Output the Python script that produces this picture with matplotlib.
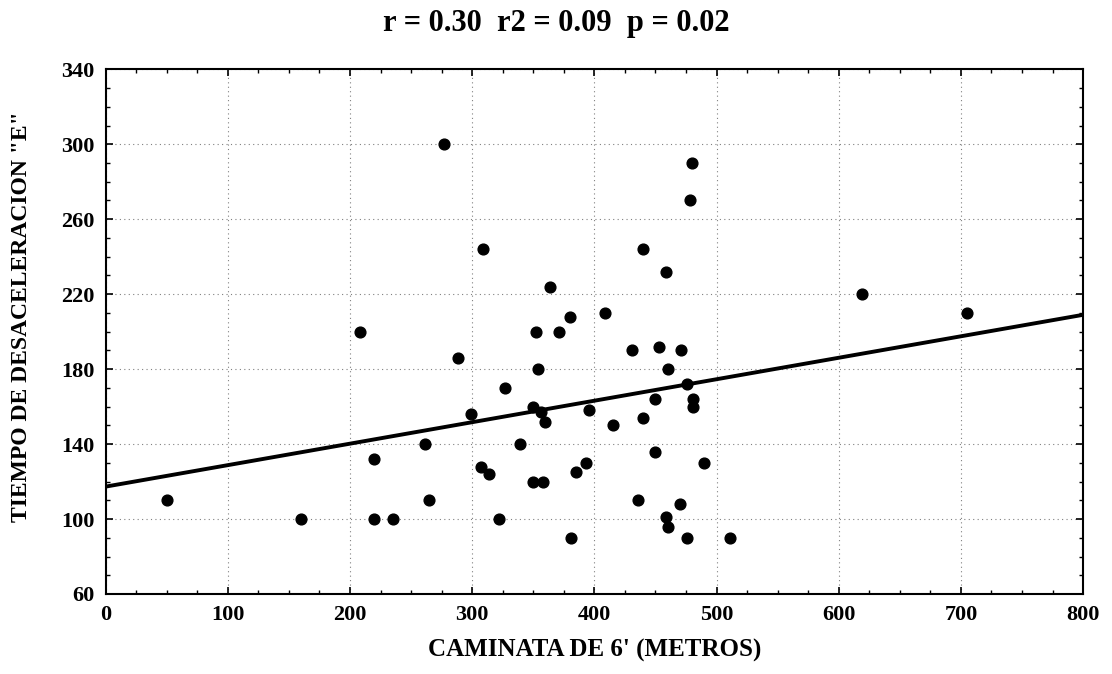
import numpy as np
from matplotlib import pyplot as plt
from matplotlib.ticker import MultipleLocator

plt.rcParams["font.family"] = ["Liberation Serif", "DejaVu Serif"]

# caminata de 6' (metros)
walk_m = [50, 160, 208, 220, 220, 235, 261, 265, 277, 288,
          299, 307, 309, 314, 322, 327, 339, 350, 350, 352,
          354, 356, 358, 360, 364, 371, 380, 381, 385, 393,
          396, 409, 415, 431, 436, 440, 440, 450, 450, 453,
          459, 460, 459, 460, 470, 471, 476, 476, 478, 480,
          481, 481, 490, 511, 619, 705]
# tiempo de desaceleracion "E"
decel_t = [110, 100, 200, 132, 100, 100, 140, 110, 300, 186,
           156, 128, 244, 124, 100, 170, 140, 160, 120, 200,
           180, 157, 120, 152, 224, 200, 208, 90, 125, 130,
           158, 210, 150, 190, 110, 154, 244, 136, 164, 192,
           232, 180, 101, 96, 108, 190, 90, 172, 270, 290,
           164, 160, 130, 90, 220, 210]

x_ticks = [0, 100, 200, 300, 400, 500, 600, 700, 800]
y_ticks = [60, 100, 140, 180, 220, 260, 300, 340]

# regression line as printed
fit_intercept = 117.3
fit_slope = 0.1146
x_range = [0, 800]

fig = plt.figure(figsize=(11.12, 6.74), dpi=100)
ax = fig.add_axes([0.095, 0.1187, 0.879, 0.7785])

ax.scatter(walk_m, decel_t, s=60, color="black", zorder=3)
xs = np.array(x_range)
ax.plot(xs, fit_intercept + fit_slope * xs, color="black", lw=2.8, zorder=2)

ax.set_xlim(0, 800)
ax.set_ylim(60, 340)
ax.set_xticks(x_ticks)
ax.set_yticks(y_ticks)
ax.xaxis.set_minor_locator(MultipleLocator(25))
ax.yaxis.set_minor_locator(MultipleLocator(10))
ax.tick_params(which="both", direction="in", top=True, right=True)
ax.tick_params(which="major", length=5, width=1.2, labelsize=16, pad=8)
ax.tick_params(which="minor", length=3, width=1)
for lab in ax.get_xticklabels() + ax.get_yticklabels():
    lab.set_fontweight("bold")
for sp in ax.spines.values():
    sp.set_linewidth(1.5)

ax.grid(True, which="major", linestyle=(0, (1, 3)), color="gray", lw=0.8)

ax.set_xlabel("CAMINATA DE 6' (METROS)", fontsize=18, fontweight="bold", labelpad=10)
ax.set_ylabel('TIEMPO DE DESACELERACION "E"', fontsize=17, fontweight="bold")
ax.yaxis.set_label_coords(-0.075, 0.528)
fig.text(0.5, 0.965, "r = 0.30  r2 = 0.09  p = 0.02", ha="center", va="center",
         fontsize=22, fontweight="bold")

plt.savefig("out.png", dpi=100)
plt.close()
